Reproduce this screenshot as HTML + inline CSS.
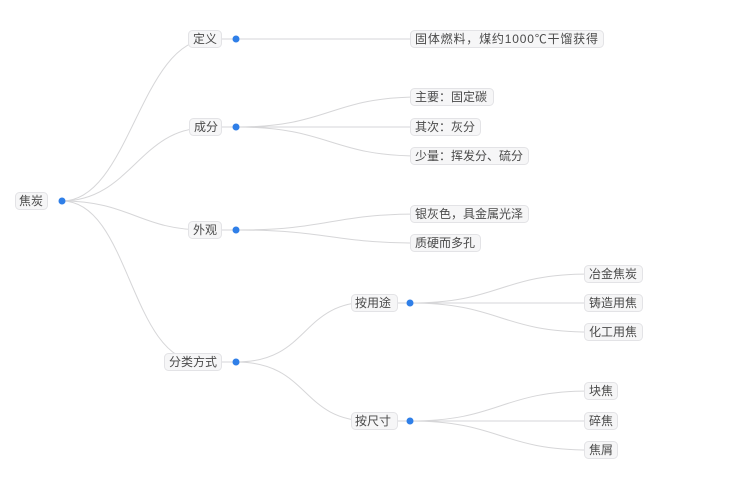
<!DOCTYPE html>
<html><head><meta charset="utf-8"><style>
html,body{margin:0;padding:0;background:#fff;}
svg{display:block;}
text{font-family:"Liberation Sans","Noto Sans CJK SC",sans-serif;font-size:12px;fill:#4a4a4a;}
.l{fill:none;stroke:#d6d6d8;stroke-width:1;}
.b{fill:#f6f6f7;stroke:#e3e3e6;stroke-width:1;}
.d{fill:#2f7fe8;}
</style></head><body>
<svg width="730" height="497" viewBox="0 0 730 497">
<path class="l" d="M62 201 C130 201,140 39,210 39"/>
<path class="l" d="M62 201 C130 201,140 128,205 128"/>
<path class="l" d="M62 201 C130 201,140 230,205 230"/>
<path class="l" d="M62 201 C130 201,130 362,200 362"/>
<path class="l" d="M215 39 H236 M215 127 H236 M215 230 H236 M215 362 H236"/>
<path class="l" d="M236 39 H420"/>
<path class="l" d="M236 127 C330 127,330 97,420 97"/>
<path class="l" d="M236 127 H420"/>
<path class="l" d="M236 127 C330 127,330 156,420 156"/>
<path class="l" d="M236 230 C330 230,330 214,420 214"/>
<path class="l" d="M236 230 C330 230,330 243,420 243"/>
<path class="l" d="M236 362 C310 362,300 302,370 302"/>
<path class="l" d="M236 362 C310 362,300 421,370 421"/>
<path class="l" d="M390 303 H410 M390 421 H410"/>
<path class="l" d="M410 303 C500 303,500 274,590 274"/>
<path class="l" d="M410 303 H590"/>
<path class="l" d="M410 303 C500 303,500 332,590 332"/>
<path class="l" d="M410 421 C500 421,500 391,590 391"/>
<path class="l" d="M410 421 H590"/>
<path class="l" d="M410 421 C500 421,500 450,590 450"/>
<rect class="b" x="15.5" y="192.5" width="32" height="17" rx="4"/><text x="19" y="205">焦炭</text>
<rect class="b" x="188.5" y="30.5" width="33" height="17" rx="4"/><text x="193" y="43">定义</text>
<rect class="b" x="189.5" y="118.5" width="32" height="17" rx="4"/><text x="194" y="131">成分</text>
<rect class="b" x="188.5" y="221.5" width="33" height="17" rx="4"/><text x="193" y="234">外观</text>
<rect class="b" x="164.5" y="353.5" width="57" height="17" rx="4"/><text x="169" y="366">分类方式</text>
<rect class="b" x="351.5" y="294.5" width="46" height="17" rx="4"/><text x="355" y="307">按用途</text>
<rect class="b" x="351.5" y="412.5" width="46" height="17" rx="4"/><text x="355" y="425">按尺寸</text>
<rect class="b" x="410.5" y="30.5" width="193" height="17" rx="4"/><text x="415" y="43" textLength="183" lengthAdjust="spacing">固体燃料，煤约1000℃干馏获得</text>
<rect class="b" x="410.5" y="88.5" width="83" height="17" rx="4"/><text x="415" y="101">主要：固定碳</text>
<rect class="b" x="410.5" y="118.5" width="70" height="17" rx="4"/><text x="415" y="131">其次：灰分</text>
<rect class="b" x="410.5" y="147.5" width="118" height="17" rx="4"/><text x="415" y="160">少量：挥发分、硫分</text>
<rect class="b" x="410.5" y="205.5" width="118" height="17" rx="4"/><text x="415" y="218">银灰色，具金属光泽</text>
<rect class="b" x="410.5" y="234.5" width="70" height="17" rx="4"/><text x="415" y="247">质硬而多孔</text>
<rect class="b" x="584.5" y="265.5" width="58" height="17" rx="4"/><text x="589" y="278">冶金焦炭</text>
<rect class="b" x="584.5" y="294.5" width="58" height="17" rx="4"/><text x="589" y="307">铸造用焦</text>
<rect class="b" x="584.5" y="323.5" width="58" height="17" rx="4"/><text x="589" y="336">化工用焦</text>
<rect class="b" x="584.5" y="382.5" width="33" height="17" rx="4"/><text x="589" y="395">块焦</text>
<rect class="b" x="584.5" y="412.5" width="33" height="17" rx="4"/><text x="589" y="425">碎焦</text>
<rect class="b" x="584.5" y="441.5" width="33" height="17" rx="4"/><text x="589" y="454">焦屑</text>
<circle class="d" cx="62" cy="201" r="3.5"/>
<circle class="d" cx="236" cy="39" r="3.5"/>
<circle class="d" cx="236" cy="127" r="3.5"/>
<circle class="d" cx="236" cy="230" r="3.5"/>
<circle class="d" cx="236" cy="362" r="3.5"/>
<circle class="d" cx="410" cy="303" r="3.5"/>
<circle class="d" cx="410" cy="421" r="3.5"/>
</svg>
</body></html>
